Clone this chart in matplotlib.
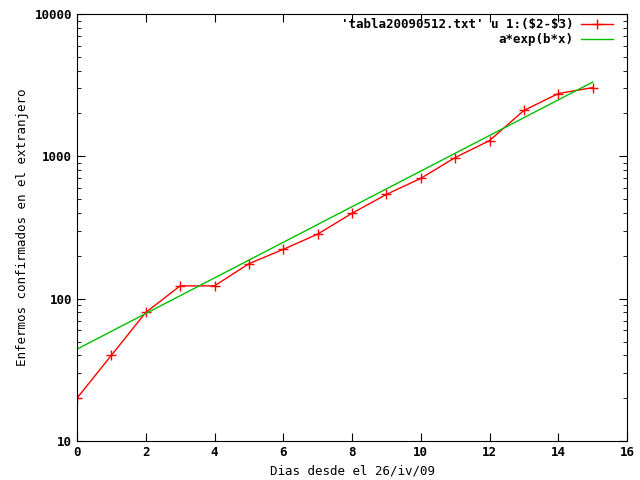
import numpy as np
import matplotlib
matplotlib.use("Agg")
import matplotlib.pyplot as plt
from matplotlib.ticker import LogLocator, FixedLocator

# data
dias = [0, 1, 2, 3, 4, 5, 6, 7, 8, 9, 10, 11, 12, 13, 14, 15]
enfermos = [20, 40, 80, 123, 123, 176, 222, 284, 398, 540, 700, 980, 1290, 2100, 2760, 3040]

# fitted a*exp(b*x)
a = 44.2
b = 0.288

plt.rcParams['font.family'] = ['DejaVu Sans Mono']
plt.rcParams['font.weight'] = 'bold'
plt.rcParams['font.size'] = 9

fig = plt.figure(figsize=(6.4, 4.8), dpi=100)
ax = fig.add_axes([77/640, 1-441/480, 550/640, 427/480])

xfit = np.linspace(0, 15, 200)
ax.plot(dias, enfermos, color='#ff0000', lw=1, marker='+', ms=7, mew=1,
        label=r"'tabla20090512.txt' u 1:(\$2-\$3)")
ax.plot(xfit, a*np.exp(b*xfit), color='#00c000', lw=1, label='a*exp(b*x)')

ax.set_yscale('log')
ax.set_xlim(0, 16)
ax.set_ylim(10, 10000)
ax.xaxis.set_major_locator(FixedLocator(range(0, 17, 2)))
ax.yaxis.set_major_locator(FixedLocator([10, 100, 1000, 10000]))
ax.yaxis.set_minor_locator(LogLocator(base=10, subs=range(2, 10)))
ax.set_yticklabels(['10', '100', '1000', '10000'])
ax.tick_params(which='both', direction='in', top=True, right=True)
ax.tick_params(which='major', length=6)
ax.tick_params(which='minor', length=3)

ax.set_xlabel('Dias desde el 26/iv/09')
ax.set_ylabel('Enfermos confirmados en el extranjero')

ax.legend(loc='upper right', frameon=False, markerfirst=False,
          handlelength=2.6, handletextpad=0.55, borderaxespad=0.0,
          labelspacing=0.2, bbox_to_anchor=(1 - 9/550, 1 + 1/427))

fig.savefig('out.png', dpi=100)
